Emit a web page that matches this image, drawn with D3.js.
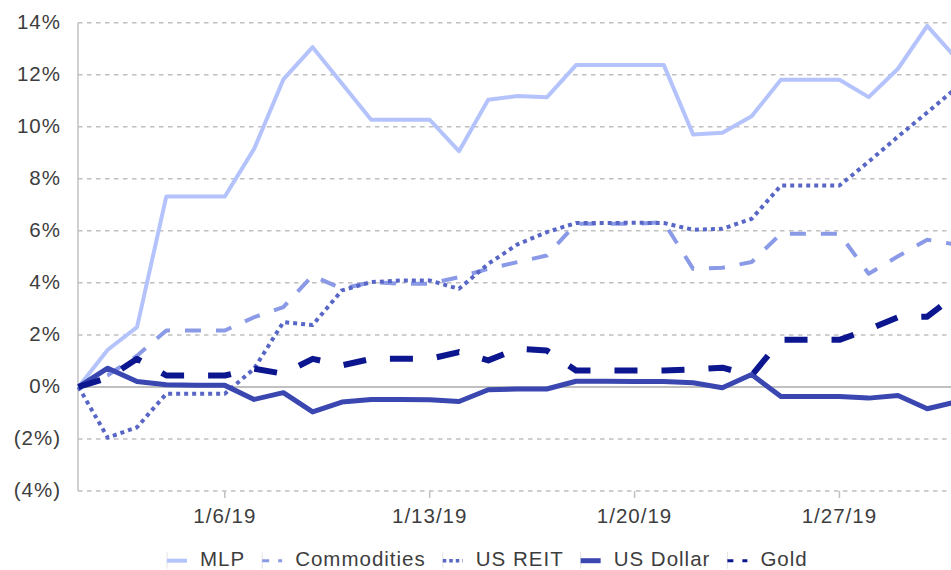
<!DOCTYPE html>
<html lang="en">
<head>
    <meta charset="UTF-8">
    <title>Asset returns, January 2019</title>
    <script src="https://cdn.jsdelivr.net/npm/d3@7/dist/d3.min.js"></script>
    <style>
        body { margin: 0; background: #fff; }
        svg { display: block; font-family: "Liberation Sans", Arial, sans-serif; }
        .grid line { stroke: #c0c0c0; stroke-width: 1.5; stroke-dasharray: 4.5 4.5; }
        .lbl { fill: #3d3d3d; font-size: 20.5px; letter-spacing: 1px; }
    </style>
</head>
<body>
<script>
    // canvas
    const width = 951;
    const height = 570;

    // daily dates, 1/1/19 .. 1/31/19
    const dates = [
        '2019-01-01', '2019-01-02', '2019-01-03', '2019-01-04', '2019-01-05', '2019-01-06', '2019-01-07',
        '2019-01-08', '2019-01-09', '2019-01-10', '2019-01-11', '2019-01-12', '2019-01-13', '2019-01-14',
        '2019-01-15', '2019-01-16', '2019-01-17', '2019-01-18', '2019-01-19', '2019-01-20', '2019-01-21',
        '2019-01-22', '2019-01-23', '2019-01-24', '2019-01-25', '2019-01-26', '2019-01-27', '2019-01-28',
        '2019-01-29', '2019-01-30', '2019-01-31'
    ];

    // cumulative returns, %
    const mlp = [0, 1.43, 2.30, 7.32, 7.32, 7.32, 9.15, 11.82, 13.06, 11.66, 10.27, 10.27, 10.27, 9.06,
        11.04, 11.18, 11.13, 12.37, 12.37, 12.37, 12.37, 9.70, 9.77, 10.40, 11.81, 11.81, 11.81, 11.14,
        12.23, 13.88, 12.62];
    const commodities = [0, 0.45, 1.20, 2.17, 2.17, 2.17, 2.68, 3.07, 4.28, 3.77, 4.03, 3.97, 3.97, 4.22,
        4.54, 4.80, 5.05, 6.27, 6.27, 6.27, 6.33, 4.54, 4.58, 4.80, 5.89, 5.89, 5.89, 4.35,
        5.02, 5.66, 5.47];
    const usReit = [0, -1.95, -1.55, -0.26, -0.26, -0.26, 0.70, 2.49, 2.38, 3.71, 4.03, 4.09, 4.09, 3.77,
        4.73, 5.48, 5.95, 6.30, 6.30, 6.31, 6.30, 6.04, 6.08, 6.46, 7.74, 7.74, 7.74, 8.66,
        9.62, 10.55, 11.50];
    const usDollar = [0, 0.72, 0.21, 0.08, 0.06, 0.06, -0.48, -0.22, -0.96, -0.58, -0.48, -0.48, -0.49, -0.56,
        -0.11, -0.08, -0.08, 0.22, 0.22, 0.21, 0.21, 0.16, -0.03, 0.48, -0.37, -0.37, -0.37, -0.43,
        -0.33, -0.84, -0.57];
    const gold = [0, 0.35, 1.08, 0.44, 0.44, 0.44, 0.70, 0.51, 1.08, 0.83, 1.08, 1.08, 1.08, 1.34,
        1.02, 1.47, 1.40, 0.63, 0.63, 0.63, 0.63, 0.67, 0.74, 0.44, 1.81, 1.81, 1.81, 2.21,
        2.68, 2.70, 3.57];

    const yTicks = [-4, -2, 0, 2, 4, 6, 8, 10, 12, 14];
    const xTicks = ['2019-01-06', '2019-01-13', '2019-01-20', '2019-01-27'];

    const parse = d3.timeParse('%Y-%m-%d');

    // series + styles
    const series = [
        {name: 'MLP', values: mlp, color: '#b4c3fb', w: 4, dash: null, legDash: null, legW: 4},
        {name: 'Commodities', values: commodities, color: '#8a9ae6', w: 4, dash: '16 15', legDash: '7 9', legW: 3},
        {name: 'US REIT', values: usReit, color: '#5866c6', w: 4, dash: '4 4', legDash: '3.5 3', legW: 3.5},
        {name: 'US Dollar', values: usDollar, color: '#3a47b0', w: 5, dash: null, legDash: null, legW: 5},
        {name: 'Gold', values: gold, color: '#0c178f', w: 6, dash: '23 24', legDash: '6 9', legW: 3}
    ];

    const plotLeft = 78, plotTop = 22.7, plotBottom = 491;

    const x = d3.scaleTime()
        .domain([parse(dates[0]), parse(dates[dates.length - 1])])
        .range([plotLeft + 0.5, 956.5]);

    const y = d3.scaleLinear()
        .domain([-4, 14])
        .range([plotBottom, plotTop]);

    const svg = d3.select('body')
        .append('svg')
        .attr('width', width)
        .attr('height', height);

    // grid
    svg.append('g')
        .attr('class', 'grid')
        .selectAll('line')
        .data(yTicks.filter(t => t !== 0))
        .enter()
        .append('line')
        .attr('x1', plotLeft)
        .attr('x2', width)
        .attr('y1', d => y(d))
        .attr('y2', d => y(d));

    // zero line
    svg.append('line')
        .attr('x1', plotLeft).attr('x2', width)
        .attr('y1', y(0)).attr('y2', y(0))
        .attr('stroke', '#c0c0c0')
        .attr('stroke-width', 2);

    // y axis line
    svg.append('line')
        .attr('x1', plotLeft).attr('x2', plotLeft)
        .attr('y1', plotTop).attr('y2', plotBottom)
        .attr('stroke', '#c0c0c0')
        .attr('stroke-width', 1.5);

    // y labels
    const pct = d => d < 0 ? '(' + Math.abs(d) + '%)' : d + '%';
    svg.append('g')
        .selectAll('text')
        .data(yTicks)
        .enter()
        .append('text')
        .attr('class', 'lbl')
        .attr('x', 61)
        .attr('y', d => y(d))
        .attr('dy', '0.3em')
        .attr('text-anchor', 'end')
        .text(pct);

    // x axis ticks + labels
    const xg = svg.append('g');
    xg.selectAll('line')
        .data(xTicks)
        .enter()
        .append('line')
        .attr('x1', d => x(parse(d)))
        .attr('x2', d => x(parse(d)))
        .attr('y1', plotBottom)
        .attr('y2', plotBottom + 7)
        .attr('stroke', '#c0c0c0')
        .attr('stroke-width', 1.5);
    xg.selectAll('text')
        .data(xTicks)
        .enter()
        .append('text')
        .attr('class', 'lbl')
        .attr('x', d => x(parse(d)))
        .attr('y', 522.7)
        .attr('text-anchor', 'middle')
        .text(d => d3.timeFormat('%-m/%-d/%y')(parse(d)));

    // lines
    const line = d3.line()
        .x((d, i) => x(parse(dates[i])))
        .y(d => y(d));

    svg.append('g')
        .selectAll('path')
        .data(series)
        .enter()
        .append('path')
        .attr('d', d => line(d.values))
        .attr('fill', 'none')
        .attr('stroke', d => d.color)
        .attr('stroke-width', d => d.w)
        .attr('stroke-dasharray', d => d.dash)
        .attr('stroke-linejoin', 'round');

    // legend
    const legY = 560.7;
    const legBase = 565.5;
    let lx = 167;
    const leg = svg.append('g');
    series.forEach(s => {
        leg.append('line')
            .attr('x1', lx).attr('x2', lx)
            .attr('y1', legY - 9).attr('y2', legY + 8)
            .attr('stroke', '#e2e2e2')
            .attr('stroke-width', 1);
        leg.append('line')
            .attr('x1', lx).attr('x2', lx + 20)
            .attr('y1', legY).attr('y2', legY)
            .attr('stroke', s.color)
            .attr('stroke-width', s.legW)
            .attr('stroke-dasharray', s.legDash);
        let t = leg.append('text')
            .attr('class', 'lbl')
            .attr('x', lx + 33)
            .attr('y', legBase)
            .text(s.name);
        lx += 33 + t.node().getComputedTextLength() + 17;
    });
</script>
</body>
</html>
